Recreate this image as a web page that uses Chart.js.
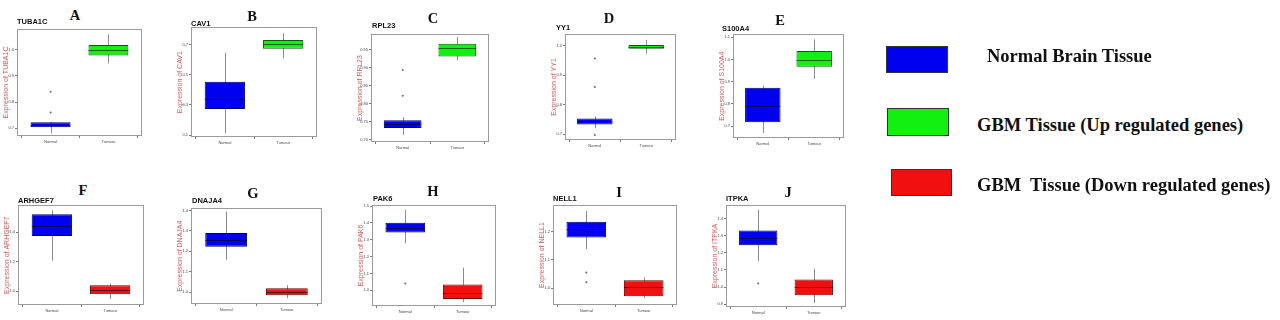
<!DOCTYPE html>
<html><head><meta charset="utf-8">
<script src="https://cdn.jsdelivr.net/npm/chart.js@4.4.0/dist/chart.umd.min.js"></script>
<style>
html,body{margin:0;padding:0;background:#fff;width:1280px;height:320px;overflow:hidden;position:relative}
canvas{position:absolute}
.letter{position:absolute;font:bold 14.5px "Liberation Serif",serif;transform:translate(-50%,-50%);color:#111;line-height:1}
.gene{position:absolute;font:bold 7.5px "Liberation Sans",Arial,sans-serif;color:#111;line-height:1}
.lrect{position:absolute;box-sizing:border-box;border:1px solid #333}
.ltext{position:absolute;font:bold 18.5px "Liberation Serif",serif;color:#111;white-space:pre;line-height:20px}
</style></head>
<body>
<script>
// ---------- data ----------
const categories = ['Normal', 'Tumour'];
const geneNames = ['TUBA1C','CAV1','RPL23','YY1','S100A4','ARHGEF7','DNAJA4','PAK6','NELL1','ITPKA'];
const panelLetters = ['A','B','C','D','E','F','G','H','I','J'];
// [lower whisker, Q1, median, Q3, upper whisker]
const normalStats = [
  [0.680,0.704,0.713,0.723,0.723],
  [0.113,0.274,0.339,0.455,0.648],
  [0.714,0.733,0.743,0.754,0.763],
  [0.720,0.733,0.743,0.753,0.760],
  [0.669,0.718,0.789,0.873,0.882],
  [1.207,1.373,1.440,1.520,1.547],
  [1.159,1.222,1.255,1.289,1.395],
  [1.279,1.343,1.372,1.401,1.477],
  [1.138,1.179,1.207,1.234,1.272],
  [1.153,1.245,1.285,1.331,1.452]
];
const tumourStats = [
  [0.948,0.978,1.000,1.019,1.060],
  [0.610,0.674,0.706,0.732,0.777],
  [0.920,0.931,0.955,0.966,0.985],
  [0.973,0.990,0.997,1.003,1.020],
  [0.913,0.967,0.998,1.038,1.091],
  [0.947,0.980,1.007,1.040,1.053],
  [0.971,0.985,1.000,1.019,1.034],
  [0.930,0.948,0.983,1.035,1.134],
  [0.966,0.972,1.003,1.028,1.038],
  [0.906,0.952,0.998,1.044,1.107]
];
const normalOutliers = [[0.76,0.84],[],[0.822,0.893],[0.697,0.86,0.957],[],[],[],[1.041],[1.021,1.055],[1.021]];
const tumourOutliers = [[],[],[],[],[],[],[],[],[],[]];
const tumourRegulation = ['up','up','up','up','up','down','down','down','down','down'];
const yTickLabels = [
  ['0.7','0.8','0.9','1.0'],
  ['0.1','0.3','0.5','0.7'],
  ['0.70','0.75','0.80','0.85','0.90','0.95'],
  ['0.7','0.8','0.9','1.0'],
  ['0.7','0.8','0.9','1.0','1.1'],
  ['1.0','1.2','1.4'],
  ['1.0','1.1','1.2','1.3','1.4'],
  ['1.0','1.1','1.2','1.3','1.4','1.5'],
  ['1.0','1.1','1.2'],
  ['0.9','1.0','1.1','1.2','1.3','1.4']
];
const yRanges = [
  [0.67,1.08],[0.087,0.816],[0.694,0.993],[0.68,1.04],[0.647,1.113],
  [0.907,1.58],[0.942,1.41],[0.907,1.506],[0.941,1.293],[0.883,1.48]
];
const legendLabels = ['Normal Brain Tissue','GBM Tissue (Up regulated genes)','GBM  Tissue (Down regulated genes)'];

// ---------- layout (page pixels) ----------
// plot left, top, right, bottom, letterX, letterY, geneX, geneTop
const panelBoxes = [
  [17,27,143,136, 75,15, 17,18],
  [191,26,317,137, 252,16, 191,20],
  [371,32,490,142, 433,18, 372,22],
  [565,32,677,140, 609,17.5, 556,24],
  [733,33,844,138, 780,19.5, 722,25],
  [18,204,144,305, 83,190, 18,197],
  [191,207,322,304, 253,192.5, 192,197],
  [372,203,497,306, 433,191, 373,195],
  [553,203,678,305, 619,192, 553,195],
  [726,203,847,307, 788,191.5, 726,195]
];
const colNormal = '#0000f0', colNormalEdge = '#00006a';
const colUp = '#11f011', colUpEdge = '#0a5a0a';
const colDown = '#f01010', colDownEdge = '#6a0000';

const boxPlugin = {
  id: 'boxExtras',
  beforeDatasetsDraw(chart) {
    const st = chart.options.plugins.boxExtras.stats;
    const x = chart.scales.x, y = chart.scales.y, ctx = chart.ctx;
    ctx.save(); ctx.strokeStyle = '#8c8c8c'; ctx.lineWidth = 1;
    st.forEach((s, i) => {
      const px = Math.round(x.getPixelForValue(i + 1)) + 0.5;
      ctx.beginPath(); ctx.moveTo(px, y.getPixelForValue(s[0])); ctx.lineTo(px, y.getPixelForValue(s[4])); ctx.stroke();
    });
    ctx.restore();
  },
  afterDatasetsDraw(chart) {
    const st = chart.options.plugins.boxExtras.stats;
    const y = chart.scales.y, ctx = chart.ctx;
    const meta = chart.getDatasetMeta(0);
    ctx.save(); ctx.strokeStyle = 'rgba(0,0,0,0.55)'; ctx.lineWidth = 1;
    st.forEach((s, i) => {
      const el = meta.data[i];
      const py = Math.round(y.getPixelForValue(s[2])) + 0.5;
      ctx.beginPath(); ctx.moveTo(el.x - el.width/2, py); ctx.lineTo(el.x + el.width/2, py); ctx.stroke();
    });
    ctx.restore();
  },
  afterDraw(chart) {
    const a = chart.chartArea, ctx = chart.ctx;
    ctx.save(); ctx.strokeStyle = '#9a9a9a'; ctx.lineWidth = 1;
    ctx.strokeRect(Math.round(a.left)+0.5, Math.round(a.top)+0.5, Math.round(a.right-a.left)-1, Math.round(a.bottom-a.top)-1);
    ctx.restore();
  }
};

const YW = 18, XH = 12, PT = 2, PR = 3;
geneNames.forEach((gene, k) => {
  const [L, T, R, B, lx, ly, gx, gy] = panelBoxes[k];
  const cv = document.createElement('canvas');
  const w = (R - L) + YW + PR, h = (B - T) + PT + XH;
  cv.width = w; cv.height = h;
  cv.style.left = (L - YW) + 'px'; cv.style.top = (T - PT) + 'px';
  cv.style.width = w + 'px'; cv.style.height = h + 'px';
  document.body.appendChild(cv);

  const letter = document.createElement('div');
  letter.className = 'letter'; letter.textContent = panelLetters[k];
  letter.style.left = lx + 'px'; letter.style.top = ly + 'px';
  document.body.appendChild(letter);
  const g = document.createElement('div');
  g.className = 'gene'; g.textContent = gene;
  g.style.left = gx + 'px'; g.style.top = gy + 'px';
  document.body.appendChild(g);

  const tc = tumourRegulation[k] === 'up' ? colUp : colDown;
  const te = tumourRegulation[k] === 'up' ? colUpEdge : colDownEdge;
  const ns = normalStats[k], ts = tumourStats[k];
  const outl = normalOutliers[k].map(v => ({x: 1, y: v}))
    .concat(tumourOutliers[k].map(v => ({x: 2, y: v})));
  const ticks = yTickLabels[k].map(Number);
  const dec = yTickLabels[k][0].split('.')[1].length;

  new Chart(cv, {
    type: 'bar',
    data: {
      datasets: [
        {
          data: [{x: 1, y: [ns[1], ns[3]]}, {x: 2, y: [ts[1], ts[3]]}],
          backgroundColor: [colNormal, tc],
          borderColor: [colNormalEdge, te],
          borderWidth: 1, borderSkipped: false,
          barPercentage: 0.69, categoryPercentage: 1, order: 2
        },
        {
          type: 'line', data: outl, showLine: false,
          pointRadius: 1, pointBackgroundColor: '#666', pointBorderColor: '#666', pointBorderWidth: 0, order: 1
        }
      ]
    },
    options: {
      responsive: false, animation: false, devicePixelRatio: 1,
      layout: { padding: { top: PT, right: PR, left: 0, bottom: 0 } },
      plugins: {
        legend: { display: false }, tooltip: { enabled: false },
        boxExtras: { stats: [ns, ts] }
      },
      scales: {
        x: {
          type: 'linear', min: 0.42, max: 2.58, offset: false,
          afterBuildTicks(s) { s.ticks = categories.map((c, i) => ({ value: i + 1 })); },
          grid: { display: true, drawOnChartArea: false, drawTicks: true, tickLength: 2, color: '#777' },
          border: { display: false },
          ticks: { font: { size: 4, family: 'Liberation Sans' }, color: '#444', padding: 1, maxRotation: 0, autoSkip: false,
                   callback: v => categories[Math.round(v) - 1] },
          afterFit(s) { s.height = XH; }
        },
        y: {
          min: yRanges[k][0], max: yRanges[k][1],
          afterBuildTicks(s) { s.ticks = ticks.map(v => ({ value: v })); },
          grid: { display: true, drawOnChartArea: false, drawTicks: true, tickLength: 2, color: '#777' },
          border: { display: false },
          ticks: { font: { size: 4, family: 'Liberation Sans' }, color: '#444', padding: 1,
                   callback: v => Number(v).toFixed(dec) },
          title: { display: true, text: 'Expression of ' + gene, color: '#cf5a5a',
                   font: { size: 7, family: 'Liberation Sans' }, padding: { top: 3, bottom: 0 } },
          afterFit(s) { s.width = YW; }
        }
      }
    },
    plugins: [boxPlugin]
  });
});

// ---------- legend ----------
const legendRects = [
  [886,46,62,27, colNormal],
  [887,108,62,28, colUp],
  [891,169,61,27, colDown]
];
const legendText = [[987,46],[977,115],[977,175]];
legendLabels.forEach((t, i) => {
  const r = legendRects[i];
  const d = document.createElement('div'); d.className = 'lrect';
  Object.assign(d.style, { left: r[0]+'px', top: r[1]+'px', width: r[2]+'px', height: r[3]+'px', background: r[4] });
  document.body.appendChild(d);
  const s = document.createElement('div'); s.className = 'ltext'; s.textContent = t;
  s.style.left = legendText[i][0] + 'px'; s.style.top = legendText[i][1] + 'px';
  document.body.appendChild(s);
});
</script>
</body></html>
